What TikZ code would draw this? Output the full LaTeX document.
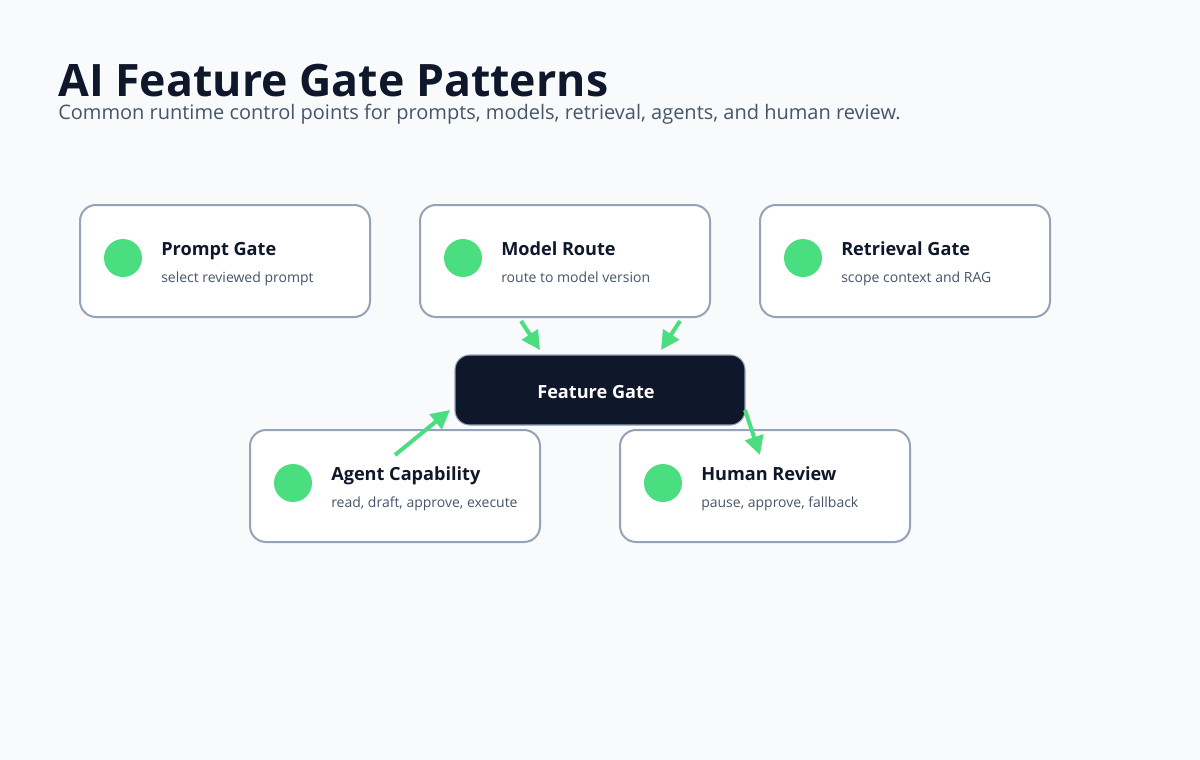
\documentclass[tikz,border=0pt]{standalone}
\usepackage{fontspec}
\setmainfont{Open Sans}
\usetikzlibrary{arrows.meta}
\definecolor{bg}{HTML}{F8FAFC}
\definecolor{ink}{HTML}{0F172A}
\definecolor{sub}{HTML}{475569}
\definecolor{edge}{HTML}{94A3B8}
\definecolor{grn}{HTML}{4ADE80}
\begin{document}
\begin{tikzpicture}[x=0.75pt,y=-0.75pt,
  card/.style={draw=edge,line width=1.5pt,fill=white,rounded corners=12pt},
  dot/.style={circle,fill=grn,draw=none,minimum size=28.5pt,inner sep=0},
  ttl/.style={anchor=base west,font=\fontsize{13.6}{15}\selectfont\bfseries,text=ink,inner sep=0},
  dsc/.style={anchor=base west,font=\fontsize{10.5}{12}\selectfont,text=sub,inner sep=0},
  arr/.style={draw=grn,line width=3pt,-{Triangle[length=14pt,width=14pt]}}]
\fill[bg] (0,0) rectangle (1200,760);
\useasboundingbox (0,0) rectangle (1200,760);
\node[anchor=base west,inner sep=0,font=\fontsize{33.5}{36}\selectfont\bfseries,text=ink] (title) at (58,96) {AI Feature Gate Patterns};
\node[anchor=base west,inner sep=0,font=\fontsize{15}{16}\selectfont,text=sub] (subt) at (58,119) {Common runtime control points for prompts, models, retrieval, agents, and human review.};
\newcommand{\mycard}[5]{%
  \draw[card] (#1,#2) rectangle ++(290,112);
  \node[dot] (#3d) at (#1+43,#2+53) {};
  \node[ttl] (#3t) at (#1+81,#2+50) {#4};
  \node[dsc] (#3s) at (#1+81,#2+77) {#5};}
\mycard{80}{205}{p}{Prompt Gate}{select reviewed prompt}
\mycard{420}{205}{m}{Model Route}{route to model version}
\mycard{760}{205}{r}{Retrieval Gate}{scope context and RAG}
\mycard{250}{430}{a}{Agent Capability}{read, draft, approve, execute}
\mycard{620}{430}{h}{Human Review}{pause, approve, fallback}
\draw[fill=ink,draw=edge,line width=0.8pt,rounded corners=11pt] (455,355) rectangle (745,425);
\node[font=\fontsize{13.6}{15}\selectfont\bfseries,text=white] (fg) at (596,392) {Feature Gate};
\coordinate (a1s) at (521,321); \coordinate (a1e) at (540,350);
\coordinate (a2s) at (680,321); \coordinate (a2e) at (661,350);
\coordinate (a3s) at (395,455); \coordinate (a3e) at (450,410);
\coordinate (a4s) at (745,410); \coordinate (a4e) at (760,455);
\draw[arr] (a1s) -- (a1e);
\draw[arr] (a2s) -- (a2e);
\draw[arr] (a3s) -- (a3e);
\draw[arr] (a4s) -- (a4e);
\end{tikzpicture}
\end{document}
